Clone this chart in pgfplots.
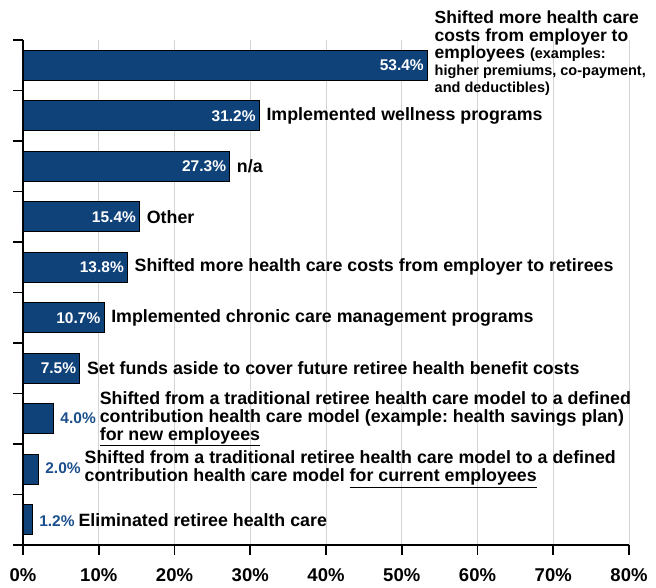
\documentclass[border=0pt]{standalone}
\usepackage{pgfplots}
\pgfplotsset{compat=1.18}
\usepackage{pgfplotstable}
\usepackage{fontspec}
\setmainfont{Liberation Sans}
\frenchspacing

\definecolor{barblue}{HTML}{10427A}
\definecolor{valblue}{HTML}{1B4F8C}
\definecolor{gridgray}{HTML}{D4D4D4}

\newcommand\catfont{\fontsize{17.8}{16}\selectfont\bfseries}
\newcommand\smallfont{\fontsize{14.5}{17}\selectfont\bfseries}
\newcommand\valfont{\fontsize{15.5}{16}\selectfont\bfseries}
\newcommand\tickfont{\fontsize{18.5}{19}\selectfont\bfseries}
\newcommand\vfmt{\pgfmathprintnumber[fixed,fixed zerofill,precision=1,assume math mode=true]{\pgfplotspointmeta}\%}
\newcommand\bv{\textcolor{valblue}{\valfont\vfmt}\hspace{4pt}}

% category text, by row of the table
\newcommand\catlabel[1]{%
\ifcase#1
  \fontsize{17.5}{17}\selectfont\bfseries
  \begin{tabular}{@{}l@{}}Shifted more health care\\costs from employer to\\
  employees {\smallfont(examples:}\\{\smallfont higher premiums, co-payment,}\\
  {\smallfont and deductibles)}\end{tabular}%
\or Implemented wellness programs%
\or n/a%
\or Other%
\or Shifted more health care costs from employer to retirees%
\or Implemented chronic care management programs%
\or Set funds aside to cover future retiree health benefit costs%
\or \bv\begin{tabular}{@{}l@{}}Shifted from a traditional retiree health care model to a defined\\
  contribution health care model (example: health savings plan)\\
  \underline{for new employees}\end{tabular}%
\or \bv\begin{tabular}{@{}l@{}}Shifted from a traditional retiree health care model to a defined\\
  contribution health care model \underline{for current employees}\end{tabular}%
\or \bv Eliminated retiree health care%
\fi}

\pgfplotstableread{
idx val ys
10 53.4 11
9 31.2 0
8 27.3 0
7 15.4 0
6 13.8 0
5 10.7 0
4 7.5 0
3 4.0 0
2 2.0 0
1 1.2 0
}\data

\begin{document}
\begin{tikzpicture}
\path[use as bounding box] (-23pt,-43pt) rectangle (633pt,545pt);
\begin{axis}[
  at={(0pt,0pt)}, anchor=south west,
  scale only axis, width=606pt, height=505pt,
  xbar, bar width=30pt, bar shift=0pt,
  xmin=0, xmax=80, ymin=0.5, ymax=10.5,
  axis x line=bottom, axis y line=left,
  axis line style={-, line width=1.6pt},
  xtick={0,10,...,80}, ytick={0.5,1.5,...,10.5}, yticklabels={},
  xticklabel={\pgfmathprintnumber[assume math mode=true]{\tick}\%},
  xticklabel style={font=\tickfont, yshift=-12pt, inner ysep=1pt},
  tick align=outside, major tick length=10pt,
  tick style={black, line width=1.6pt},
  xmajorgrids, grid style={gridgray, line width=0.8pt},
  clip=false,
]
% bars with white values inside
\addplot[fill=barblue, draw=black, line width=0.8pt, bar shift=0pt,
  point meta=x,
  visualization depends on={value \coordindex \as \ci},
  nodes near coords={\ifnum\ci<7 \vfmt\fi},
  every node near coord/.style={anchor=east, font=\valfont, text=white}]
  table[x=val, y=idx]{\data};
% category labels beside the bars
\addplot[draw=none, fill=none, bar shift=0pt,
  point meta=x,
  visualization depends on={value \coordindex \as \ci},
  visualization depends on={\thisrow{ys} \as \ys},
  nodes near coords={\catlabel{\ci}},
  every node near coord/.style={anchor=west, font=\catfont, text=black,
    inner xsep=0pt, xshift=7pt, yshift=\ys pt}]
  table[x=val, y=idx]{\data};
\end{axis}
\end{tikzpicture}
\end{document}
